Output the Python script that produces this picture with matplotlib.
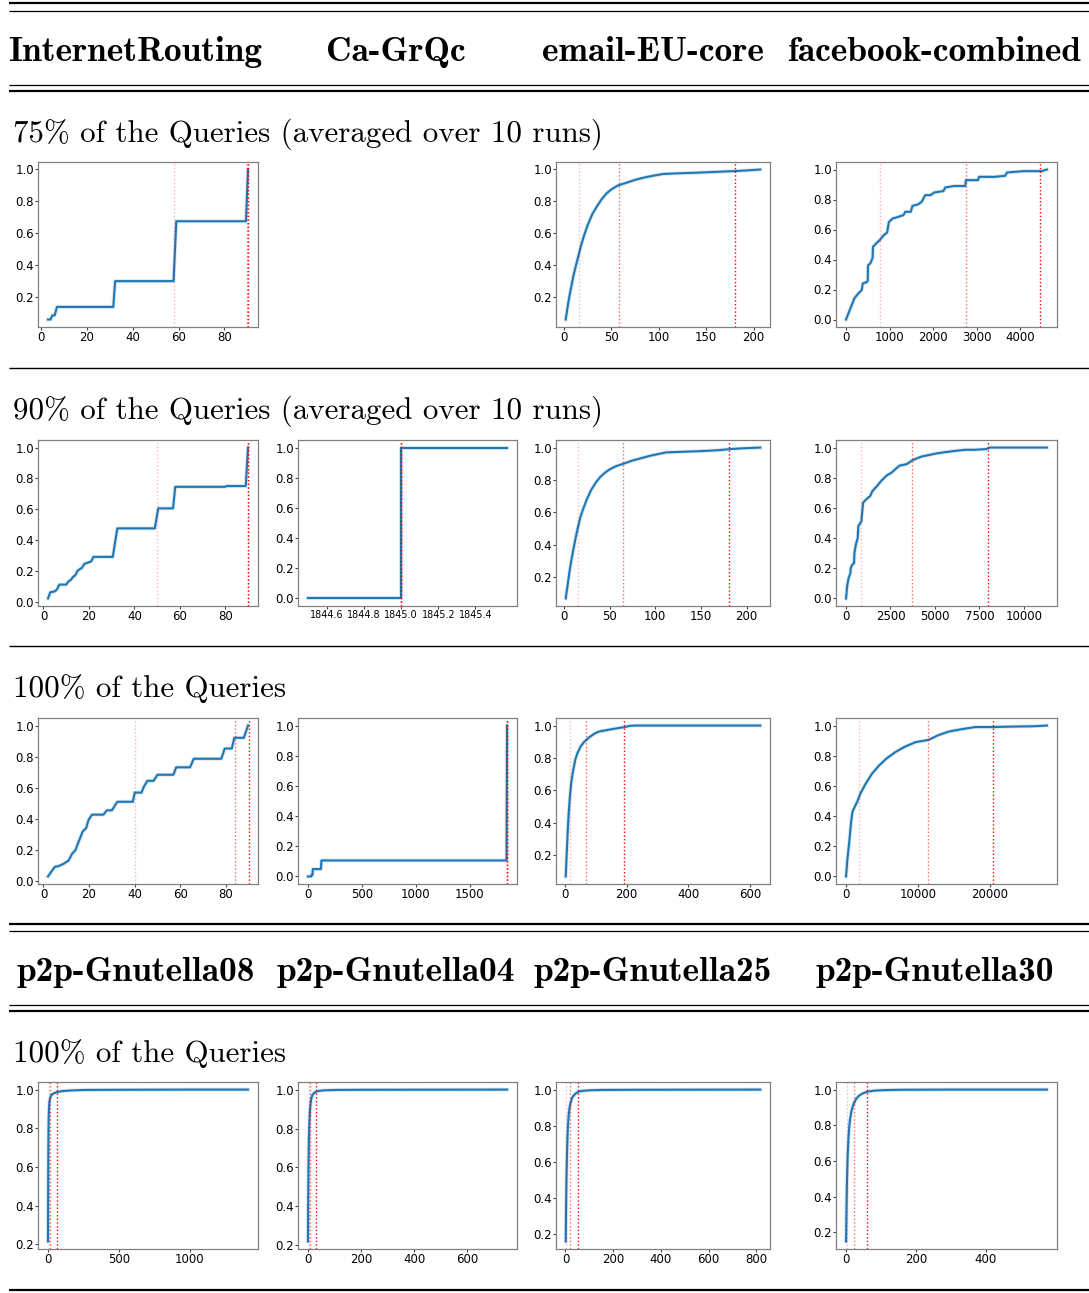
import matplotlib
matplotlib.use('Agg')
import matplotlib.pyplot as plt
from matplotlib.lines import Line2D

# ============================================================
# Page geometry (pixels at 100 dpi)
# ============================================================
FIG_W, FIG_H = 1089, 1293
DPI = 100

COL_X = [(38, 258), (298, 517), (556, 770), (836, 1057)]
ROW_Y = [(162, 327), (440, 606), (718, 884), (1082, 1249)]

LINE_BLUE = '#1f77b4'
SPINE_GREY = '#808080'
MARK_ALPHAS = [0.3, 0.6, 1.0]   # 50th / 90th / 99th percentile markers

HEAD_FONT = 'cmb10'
BODY_FONT = 'cmr10'

# ============================================================
# Table text
# ============================================================
datasets_top = ['InternetRouting', 'Ca-GrQc', 'email-EU-core', 'facebook-combined']
datasets_bottom = ['p2p-Gnutella08', 'p2p-Gnutella04', 'p2p-Gnutella25', 'p2p-Gnutella30']
section_titles = ['75% of the Queries (averaged over 10 runs)',
                  '90% of the Queries (averaged over 10 runs)',
                  '100% of the Queries',
                  '100% of the Queries']

# ============================================================
# CDF data
# ============================================================

# InternetRouting
ir75_x = [3, 4.1, 4.9, 5.9, 6.9, 31.5, 32.3, 57.8, 59, 89.4, 90.3]
ir75_y = [0.058, 0.058, 0.084, 0.084, 0.137, 0.137, 0.299, 0.299, 0.675, 0.675, 1.0]
ir75_marks = [58.2, 90.0, 90.3]

ir90_x = [2, 3, 5, 6, 7, 10, 11, 12, 13, 14, 15, 17, 18, 20, 21, 22, 30.5, 32.5,
          49, 50.5, 57, 58, 80, 80.5, 89, 90]
ir90_y = [0.02, 0.06, 0.066, 0.08, 0.11, 0.11, 0.13, 0.14, 0.16, 0.17, 0.20, 0.22,
          0.245, 0.255, 0.26, 0.29, 0.29, 0.475, 0.475, 0.605, 0.605, 0.745, 0.745,
          0.75, 0.75, 1.0]
ir90_marks = [50, 90, 90.2]

ir100_x = [2, 3.5, 5, 6.5, 8.8, 11, 12.6, 14, 15.7, 17.2, 18.7, 19.8, 21.3, 26.3,
           27.8, 30, 32.4, 39.2, 40, 43, 44, 45.6, 48.3, 50, 57, 58.2, 64.3, 65.9,
           78, 79.5, 82.6, 83.7, 87.9, 89.7]
ir100_y = [0.028, 0.06, 0.09, 0.094, 0.109, 0.13, 0.175, 0.197, 0.262, 0.317, 0.339,
           0.393, 0.426, 0.426, 0.454, 0.454, 0.509, 0.509, 0.568, 0.568, 0.605,
           0.644, 0.644, 0.683, 0.683, 0.731, 0.731, 0.786, 0.786, 0.852, 0.852,
           0.921, 0.921, 1.0]
ir100_marks = [40, 84, 90]

# Ca-GrQc
ca90_x = [1844.5, 1845.0, 1845.0, 1845.57]
ca90_y = [0.0, 0.0, 1.0, 1.0]
ca90_marks = [1845.0, 1845.0, 1845.0]

ca100_x = [0, 30, 35, 42, 45, 120, 125, 1840, 1845]
ca100_y = [0.0, 0.0, 0.011, 0.011, 0.049, 0.049, 0.106, 0.106, 1.0]
ca100_marks = [1845, 1845, 1845]

# email-EU-core
em75_x = [2, 4, 6, 8, 10, 12, 15, 18, 21, 25, 30, 35, 40, 45, 50, 57, 65, 75, 85,
          95, 105, 120, 140, 160, 180, 195, 207]
em75_y = [0.06, 0.14, 0.21, 0.27, 0.33, 0.38, 0.45, 0.52, 0.58, 0.65, 0.72, 0.77,
          0.815, 0.85, 0.875, 0.90, 0.915, 0.935, 0.95, 0.962, 0.972, 0.976, 0.98,
          0.985, 0.99, 0.995, 1.0]
em75_marks = [16, 58, 180]

em90_x = [2, 4, 6, 8, 10, 12, 15, 18, 21, 25, 30, 35, 40, 45, 50, 57, 65, 75, 85,
          95, 105, 112, 130, 150, 170, 181, 195, 215]
em90_y = [0.07, 0.15, 0.23, 0.30, 0.36, 0.42, 0.50, 0.57, 0.62, 0.68, 0.74, 0.785,
          0.82, 0.845, 0.865, 0.885, 0.90, 0.92, 0.935, 0.95, 0.962, 0.97, 0.974,
          0.978, 0.984, 0.99, 0.995, 1.0]
em90_marks = [15, 65, 181]

em100_x = [2, 5, 8, 11, 15, 20, 26, 33, 40, 50, 60, 68, 80, 95, 110, 130, 150, 175,
           192, 210, 230, 634]
em100_y = [0.07, 0.2, 0.33, 0.44, 0.55, 0.65, 0.72, 0.79, 0.83, 0.87, 0.895, 0.91,
           0.93, 0.95, 0.963, 0.97, 0.977, 0.985, 0.99, 0.998, 1.0, 1.0]
em100_marks = [17, 69, 190]

# facebook-combined
fb75_x = [0, 190, 280, 360, 385, 485, 500, 505, 560, 610, 620, 693, 777, 860, 944,
          986, 1070, 1195, 1320, 1362, 1487, 1529, 1654, 1738, 1821, 1946, 2030,
          2239, 2281, 2490, 2740, 2757, 3033, 3058, 3409, 3659, 3701, 4077, 4495,
          4620]
fb75_y = [0.0, 0.14, 0.173, 0.196, 0.24, 0.251, 0.26, 0.36, 0.375, 0.41, 0.485,
          0.507, 0.53, 0.56, 0.58, 0.65, 0.673, 0.684, 0.696, 0.718, 0.718, 0.758,
          0.767, 0.784, 0.829, 0.829, 0.847, 0.856, 0.88, 0.89, 0.89, 0.929, 0.929,
          0.951, 0.951, 0.958, 0.98, 0.989, 0.989, 1.0]
fb75_marks = [770, 2750, 4470]

fb90_x = [0, 60, 143, 245, 260, 348, 450, 470, 552, 654, 695, 859, 961, 1166, 1366,
          1472, 1780, 1983, 2290, 2597, 2801, 3006, 3415, 3722, 4233, 5050, 5300,
          6073, 6687, 7200, 7900, 8100, 11300]
fb90_y = [0.0, 0.08, 0.134, 0.167, 0.2, 0.223, 0.234, 0.30, 0.357, 0.40, 0.48, 0.51,
          0.636, 0.66, 0.68, 0.71, 0.75, 0.78, 0.815, 0.837, 0.86, 0.88, 0.89, 0.915,
          0.94, 0.96, 0.965, 0.977, 0.985, 0.985, 0.99, 1.0, 1.0]
fb90_marks = [840, 3730, 7990]

fb100_x = [0, 200, 450, 700, 900, 1000, 1300, 1600, 2000, 2800, 3600, 4600, 5600,
           6900, 8200, 9700, 11500, 12800, 14300, 16000, 18000, 20500, 23000,
           26000, 28000]
fb100_y = [0.0, 0.12, 0.23, 0.36, 0.43, 0.44, 0.47, 0.50, 0.55, 0.62, 0.68, 0.735,
           0.78, 0.825, 0.86, 0.89, 0.905, 0.935, 0.96, 0.975, 0.99, 0.99, 0.993,
           0.995, 1.0]
fb100_marks = [1800, 11400, 20500]

# p2p-Gnutella
g08_x = [1, 2, 3, 4, 5, 6, 8, 10, 14, 20, 30, 45, 65, 100, 150, 250, 500, 1000, 1410]
g08_y = [0.215, 0.45, 0.62, 0.74, 0.81, 0.86, 0.9, 0.93, 0.95, 0.965, 0.975, 0.982,
         0.987, 0.992, 0.995, 0.998, 0.999, 1.0, 1.0]
g08_marks = [5, 12, 62]

g04_x = [1, 2, 3, 4, 5, 6, 8, 10, 13, 17, 22, 30, 40, 60, 100, 200, 750]
g04_y = [0.22, 0.45, 0.6, 0.7, 0.77, 0.82, 0.88, 0.92, 0.95, 0.97, 0.98, 0.988,
         0.993, 0.996, 0.998, 0.999, 1.0]
g04_marks = [4, 10, 32]

g25_x = [1, 2, 4, 6, 8, 10, 13, 16, 20, 25, 30, 40, 53, 70, 100, 150, 300, 817]
g25_y = [0.16, 0.3, 0.5, 0.63, 0.72, 0.79, 0.85, 0.89, 0.92, 0.945, 0.96, 0.975,
         0.988, 0.993, 0.996, 0.998, 0.999, 1.0]
g25_marks = [4, 18, 53]

g30_x = [1, 2, 3, 4, 6, 8, 10, 13, 16, 20, 25, 30, 38, 48, 61, 80, 110, 160, 300, 574]
g30_y = [0.15, 0.3, 0.42, 0.52, 0.65, 0.73, 0.79, 0.84, 0.875, 0.905, 0.93, 0.948,
         0.966, 0.978, 0.988, 0.994, 0.997, 0.999, 1.0, 1.0]
g30_marks = [5, 25, 61]

# tick positions
y_from_0 = [0.0, 0.2, 0.4, 0.6, 0.8, 1.0]
y_from_02 = [0.2, 0.4, 0.6, 0.8, 1.0]
ticks_ir = [0, 20, 40, 60, 80]
ticks_em = [0, 50, 100, 150, 200]
ticks_em100 = [0, 200, 400, 600]
ticks_fb75 = [0, 1000, 2000, 3000, 4000]
ticks_fb90 = [0, 2500, 5000, 7500, 10000]
ticks_fb100 = [0, 10000, 20000]
ticks_ca90 = [1844.6, 1844.8, 1845.0, 1845.2, 1845.4]
ticks_ca100 = [0, 500, 1000, 1500]
ticks_g08 = [0, 500, 1000]
ticks_g04 = [0, 200, 400, 600]
ticks_g25 = [0, 200, 400, 600, 800]
ticks_g30 = [0, 200, 400]

# (row, col, x, y, marks, xticks, yticks, xtick font size)
PANELS = [
    (0, 0, ir75_x, ir75_y, ir75_marks, ticks_ir, y_from_02, 8.5),
    (0, 2, em75_x, em75_y, em75_marks, ticks_em, y_from_02, 8.5),
    (0, 3, fb75_x, fb75_y, fb75_marks, ticks_fb75, y_from_0, 8.5),
    (1, 0, ir90_x, ir90_y, ir90_marks, ticks_ir, y_from_0, 8.5),
    (1, 1, ca90_x, ca90_y, ca90_marks, ticks_ca90, y_from_0, 6.9),
    (1, 2, em90_x, em90_y, em90_marks, ticks_em, y_from_02, 8.5),
    (1, 3, fb90_x, fb90_y, fb90_marks, ticks_fb90, y_from_0, 8.5),
    (2, 0, ir100_x, ir100_y, ir100_marks, ticks_ir, y_from_0, 8.5),
    (2, 1, ca100_x, ca100_y, ca100_marks, ticks_ca100, y_from_0, 8.5),
    (2, 2, em100_x, em100_y, em100_marks, ticks_em100, y_from_02, 8.5),
    (2, 3, fb100_x, fb100_y, fb100_marks, ticks_fb100, y_from_0, 8.5),
    (3, 0, g08_x, g08_y, g08_marks, ticks_g08, y_from_02, 8.5),
    (3, 1, g04_x, g04_y, g04_marks, ticks_g04, y_from_02, 8.5),
    (3, 2, g25_x, g25_y, g25_marks, ticks_g25, y_from_02, 8.5),
    (3, 3, g30_x, g30_y, g30_marks, ticks_g30, y_from_02, 8.5),
]


def px_rect(x0, y0, x1, y1):
    """pixel box (top-left origin) -> figure fraction rect"""
    return [x0 / FIG_W, 1 - y1 / FIG_H, (x1 - x0) / FIG_W, (y1 - y0) / FIG_H]


def hrule(fig, y, lw, x0=9):
    fig.add_artist(Line2D([x0 / FIG_W, 1.0], [1 - y / FIG_H] * 2, color='black',
                          linewidth=lw, solid_capstyle='butt'))


def put_text(fig, x, y, s, family, size, ha='left'):
    fig.text(x / FIG_W, 1 - y / FIG_H, s, fontfamily=family, fontsize=size,
             ha=ha, va='baseline')


def plot_cdf(ax, x, y, marks, xticks, yticks, xsize):
    ax.plot(x, y, color=LINE_BLUE, linewidth=2.8, alpha=0.18)
    ax.plot(x, y, color=LINE_BLUE, linewidth=1.5)
    for xm, a in zip(marks, MARK_ALPHAS):
        ax.axvline(xm, color='red', linestyle=':', linewidth=1.0, alpha=a)
    ax.set_xticks(xticks)
    ax.set_yticks(yticks)
    ax.xaxis.get_major_formatter().set_useOffset(False)
    for sp in ax.spines.values():
        sp.set_color(SPINE_GREY)
        sp.set_linewidth(0.9)
    ax.tick_params(length=2.2, width=0.8, color='#444444', pad=0.8, labelsize=8.5)
    ax.tick_params(axis='x', labelsize=xsize)


def main():
    plt.rcParams['axes.unicode_minus'] = False
    fig = plt.figure(figsize=(FIG_W / DPI, FIG_H / DPI), dpi=DPI, facecolor='white')

    # table rules
    hrule(fig, 3, 1.6)
    hrule(fig, 11, 0.9)
    hrule(fig, 85, 0.9)
    hrule(fig, 91, 1.6)
    hrule(fig, 368, 1.0)
    hrule(fig, 646, 1.0)
    hrule(fig, 924, 1.6)
    hrule(fig, 931, 0.9)
    hrule(fig, 1005, 0.9)
    hrule(fig, 1011, 1.6)
    hrule(fig, 1290, 1.6)

    # dataset headers
    for name, cx in zip(datasets_top, [135.5, 396, 653, 934]):
        put_text(fig, cx, 61, name, HEAD_FONT, 25.5, ha='center')
    for name, cx in zip(datasets_bottom, [136, 395.5, 652.5, 934.5]):
        put_text(fig, cx, 981, name, HEAD_FONT, 25.5, ha='center')

    # section titles
    for title, yb in zip(section_titles, [142, 419, 697, 1062]):
        put_text(fig, 13, yb, title, BODY_FONT, 22.3)

    for row, col, x, y, marks, xt, yt, xs in PANELS:
        x0, x1 = COL_X[col]
        y0, y1 = ROW_Y[row]
        ax = fig.add_axes(px_rect(x0, y0, x1, y1))
        plot_cdf(ax, x, y, marks, xt, yt, xs)

    fig.savefig('out.png', dpi=DPI, facecolor='white')


if __name__ == '__main__':
    main()
